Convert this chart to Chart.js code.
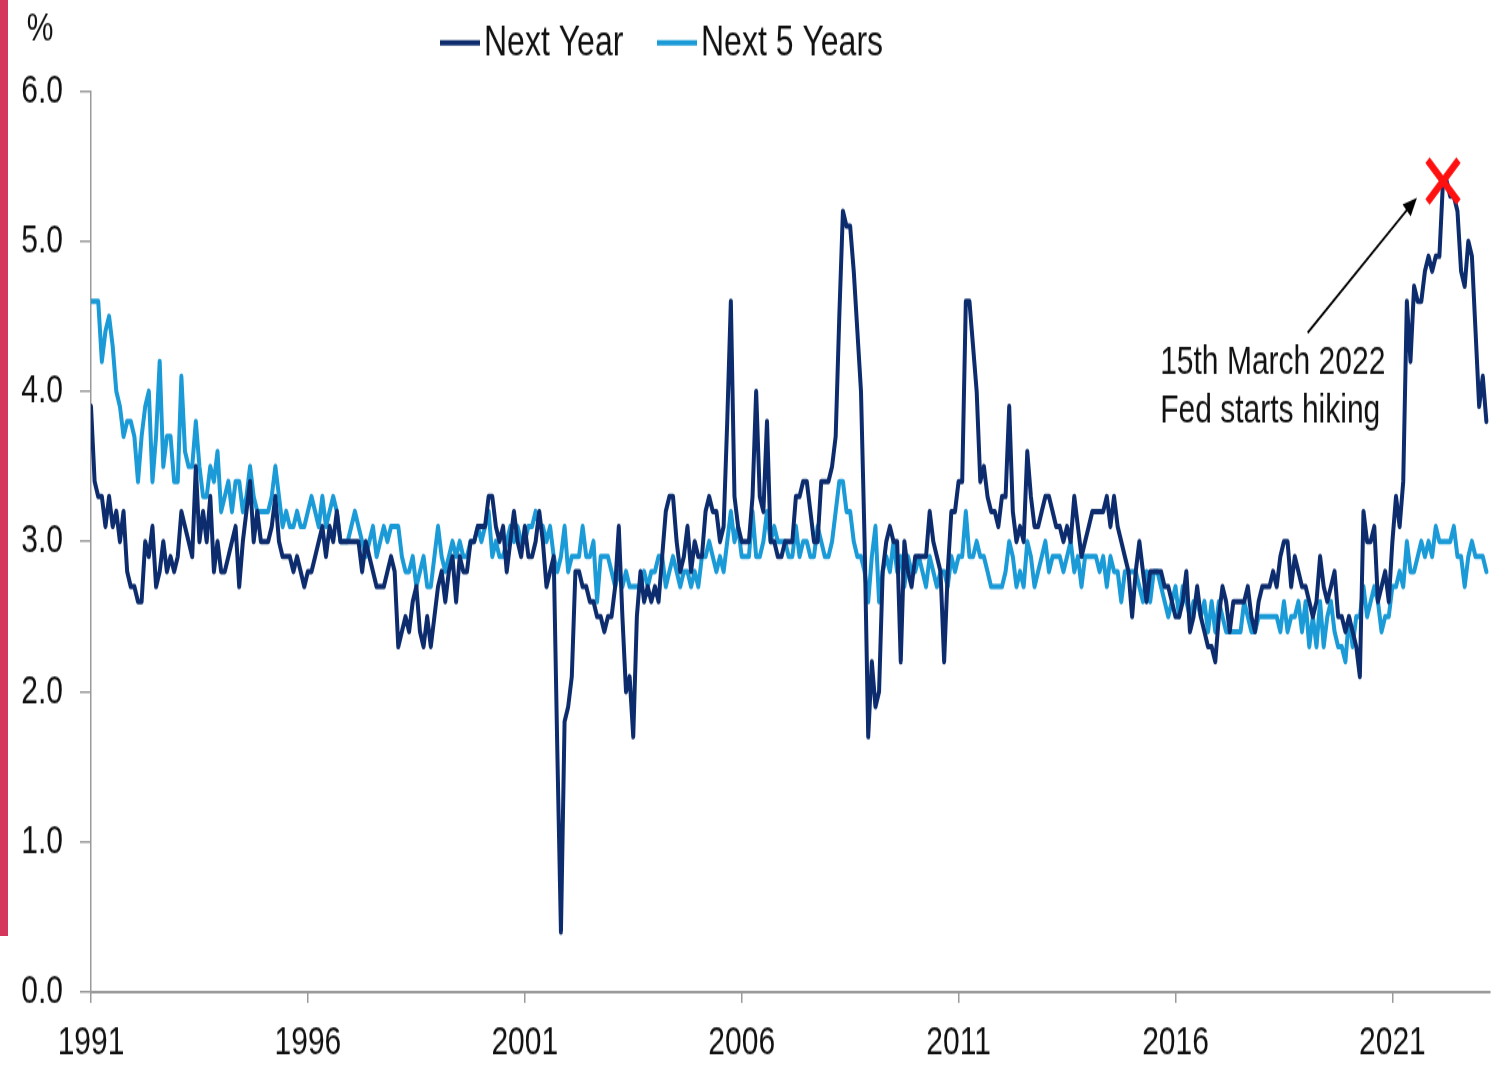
<!DOCTYPE html>
<html>
<head>
<meta charset="utf-8">
<title>Inflation expectations</title>
<script src="https://cdn.jsdelivr.net/npm/chart.js@4.4.0/dist/chart.umd.min.js"></script>
<style>
  html, body { margin: 0; padding: 0; background: #fff; overflow: hidden; }
  #wrap { position: relative; width: 1491px; height: 1065px; }
  #bar { position: absolute; left: 0; top: 0; width: 8px; height: 936px; background: #d5365c; z-index: 2; }
</style>
</head>
<body>
<div id="wrap">
  <!-- drawn at 789px high, shown at 1065px: the source picture is stretched vertically -->
  <canvas id="chart" width="1491" height="789" style="width:1491px;height:1065px;display:block"></canvas>
  <div id="bar"></div>
</div>
<script>
// ---------- DATA ----------
const startYear = 1991;   // monthly, Jan 1991 .. Mar 2023
const xTickYears = [1991, 1996, 2001, 2006, 2011, 2016, 2021];
const yTickLabels = ['0.0', '1.0', '2.0', '3.0', '4.0', '5.0', '6.0'];
const seriesNames = ['Next Year', 'Next 5 Years'];

const nextYear = [
  3.9, 3.4, 3.3, 3.3, 3.1, 3.3, 3.1, 3.2, 3.0, 3.2, 2.8, 2.7, // 1991
  2.7, 2.6, 2.6, 3.0, 2.9, 3.1, 2.7, 2.8, 3.0, 2.8, 2.9, 2.8, // 1992
  2.9, 3.2, 3.1, 3.0, 2.9, 3.5, 3.0, 3.2, 3.0, 3.3, 2.8, 3.0, // 1993
  2.8, 2.8, 2.9, 3.0, 3.1, 2.7, 3.0, 3.2, 3.4, 3.0, 3.2, 3.0, // 1994
  3.0, 3.0, 3.1, 3.3, 3.0, 2.9, 2.9, 2.9, 2.8, 2.9, 2.8, 2.7, // 1995
  2.8, 2.8, 2.9, 3.0, 3.1, 2.9, 3.1, 3.0, 3.2, 3.0, 3.0, 3.0, // 1996
  3.0, 3.0, 3.0, 2.8, 3.0, 2.9, 2.8, 2.7, 2.7, 2.7, 2.8, 2.9, // 1997
  2.8, 2.3, 2.4, 2.5, 2.4, 2.6, 2.7, 2.4, 2.3, 2.5, 2.3, 2.5, // 1998
  2.7, 2.8, 2.6, 2.8, 2.9, 2.6, 2.9, 2.8, 2.8, 3.0, 3.0, 3.1, // 1999
  3.1, 3.1, 3.3, 3.3, 3.1, 3.0, 3.1, 2.8, 3.0, 3.2, 3.0, 2.9, // 2000
  3.1, 2.9, 2.9, 3.0, 3.2, 3.0, 2.7, 2.8, 2.9, 1.6, 0.4, 1.8, // 2001
  1.9, 2.1, 2.8, 2.8, 2.7, 2.7, 2.6, 2.6, 2.5, 2.5, 2.4, 2.5, // 2002
  2.5, 2.7, 3.1, 2.5, 2.0, 2.1, 1.7, 2.5, 2.8, 2.6, 2.7, 2.6, // 2003
  2.7, 2.6, 2.9, 3.2, 3.3, 3.3, 3.0, 2.8, 2.9, 3.1, 2.8, 3.0, // 2004
  2.9, 2.9, 3.2, 3.3, 3.2, 3.2, 3.0, 3.1, 3.8, 4.6, 3.3, 3.1, // 2005
  3.0, 3.0, 3.0, 3.3, 4.0, 3.3, 3.2, 3.8, 3.0, 3.0, 2.9, 2.9, // 2006
  3.0, 3.0, 3.0, 3.3, 3.3, 3.4, 3.4, 3.2, 3.0, 3.0, 3.4, 3.4, // 2007
  3.4, 3.5, 3.7, 4.5, 5.2, 5.1, 5.1, 4.8, 4.4, 4.0, 3.0, 1.7, // 2008
  2.2, 1.9, 2.0, 2.8, 3.0, 3.1, 3.0, 3.0, 2.2, 3.0, 2.8, 2.7, // 2009
  2.9, 2.9, 2.9, 2.9, 3.2, 3.0, 2.9, 2.8, 2.2, 2.8, 3.2, 3.2, // 2010
  3.4, 3.4, 4.6, 4.6, 4.3, 4.0, 3.4, 3.5, 3.3, 3.2, 3.2, 3.1, // 2011
  3.3, 3.3, 3.9, 3.2, 3.0, 3.1, 3.0, 3.6, 3.3, 3.1, 3.1, 3.2, // 2012
  3.3, 3.3, 3.2, 3.1, 3.1, 3.0, 3.1, 3.0, 3.3, 3.1, 2.9, 3.0, // 2013
  3.1, 3.2, 3.2, 3.2, 3.2, 3.3, 3.1, 3.3, 3.1, 3.0, 2.9, 2.8, // 2014
  2.5, 2.8, 3.0, 2.8, 2.6, 2.8, 2.8, 2.8, 2.8, 2.7, 2.7, 2.6, // 2015
  2.5, 2.5, 2.6, 2.8, 2.4, 2.5, 2.7, 2.5, 2.4, 2.3, 2.3, 2.2, // 2016
  2.5, 2.7, 2.6, 2.4, 2.6, 2.6, 2.6, 2.6, 2.7, 2.5, 2.4, 2.6, // 2017
  2.7, 2.7, 2.7, 2.8, 2.7, 2.9, 3.0, 3.0, 2.7, 2.9, 2.8, 2.7, // 2018
  2.7, 2.6, 2.5, 2.6, 2.9, 2.7, 2.6, 2.7, 2.8, 2.5, 2.5, 2.4, // 2019
  2.5, 2.4, 2.3, 2.1, 3.2, 3.0, 3.0, 3.1, 2.6, 2.7, 2.8, 2.6, // 2020
  3.0, 3.3, 3.1, 3.4, 4.6, 4.2, 4.7, 4.6, 4.6, 4.8, 4.9, 4.8, // 2021
  4.9, 4.9, 5.4, 5.4, 5.3, 5.3, 5.2, 4.8, 4.7, 5.0, 4.9, 4.4, // 2022
  3.9, 4.1, 3.8                                               // 2023
];

const next5Years = [
  4.6, 4.6, 4.6, 4.2, 4.4, 4.5, 4.3, 4.0, 3.9, 3.7, 3.8, 3.8, // 1991
  3.7, 3.4, 3.7, 3.9, 4.0, 3.4, 3.7, 4.2, 3.5, 3.7, 3.7, 3.4, // 1992
  3.4, 4.1, 3.6, 3.5, 3.5, 3.8, 3.5, 3.3, 3.3, 3.5, 3.4, 3.6, // 1993
  3.2, 3.3, 3.4, 3.2, 3.4, 3.4, 3.2, 3.3, 3.5, 3.3, 3.2, 3.2, // 1994
  3.2, 3.2, 3.3, 3.5, 3.3, 3.1, 3.2, 3.1, 3.1, 3.2, 3.1, 3.1, // 1995
  3.2, 3.3, 3.2, 3.1, 3.3, 3.1, 3.2, 3.3, 3.2, 3.0, 3.0, 3.0, // 1996
  3.1, 3.2, 3.1, 3.0, 2.9, 3.0, 3.1, 2.9, 3.0, 3.1, 3.0, 3.1, // 1997
  3.1, 3.1, 2.9, 2.8, 2.8, 2.9, 2.7, 2.8, 2.9, 2.7, 2.7, 2.9, // 1998
  3.1, 2.9, 2.8, 2.9, 3.0, 2.9, 3.0, 2.9, 2.9, 3.0, 3.0, 3.1, // 1999
  3.0, 3.1, 3.2, 2.9, 3.0, 2.9, 2.9, 3.0, 3.1, 3.0, 3.1, 3.0, // 2000
  3.0, 3.1, 3.1, 3.2, 3.1, 3.1, 3.0, 3.1, 2.9, 2.8, 2.9, 3.1, // 2001
  2.8, 2.9, 2.9, 2.9, 3.1, 2.9, 2.9, 3.0, 2.6, 2.9, 2.9, 2.9, // 2002
  2.8, 2.7, 2.8, 2.7, 2.8, 2.7, 2.7, 2.7, 2.7, 2.8, 2.7, 2.8, // 2003
  2.8, 2.9, 2.9, 2.7, 2.8, 2.9, 2.8, 2.7, 2.8, 2.8, 2.7, 2.8, // 2004
  2.7, 2.9, 2.9, 3.0, 2.9, 2.8, 2.9, 2.8, 3.0, 3.2, 3.0, 3.1, // 2005
  2.9, 2.9, 2.9, 3.2, 2.9, 2.9, 3.0, 3.2, 3.0, 3.1, 3.0, 3.0, // 2006
  3.0, 2.9, 2.9, 3.1, 2.9, 3.0, 3.0, 2.9, 2.9, 3.1, 3.0, 2.9, // 2007
  2.9, 3.0, 3.2, 3.4, 3.4, 3.2, 3.2, 3.0, 2.9, 2.9, 2.8, 2.6, // 2008
  2.9, 3.1, 2.6, 2.8, 2.9, 2.8, 3.0, 2.8, 2.9, 2.7, 2.9, 2.8, // 2009
  2.8, 2.9, 2.8, 2.7, 2.9, 2.8, 2.7, 2.8, 2.8, 2.7, 2.9, 2.8, // 2010
  2.9, 2.9, 3.2, 2.9, 2.9, 3.0, 2.9, 2.9, 2.8, 2.7, 2.7, 2.7, // 2011
  2.7, 2.8, 3.0, 2.9, 2.7, 2.8, 2.7, 3.0, 2.9, 2.7, 2.8, 2.9, // 2012
  3.0, 2.8, 2.9, 2.9, 2.9, 2.8, 2.9, 3.0, 2.8, 2.9, 2.7, 2.9, // 2013
  2.9, 2.9, 2.9, 2.8, 2.9, 2.7, 2.9, 2.8, 2.8, 2.6, 2.8, 2.8, // 2014
  2.8, 2.8, 2.7, 2.6, 2.8, 2.6, 2.8, 2.8, 2.7, 2.6, 2.5, 2.6, // 2015
  2.7, 2.5, 2.7, 2.6, 2.5, 2.6, 2.6, 2.5, 2.6, 2.4, 2.6, 2.4, // 2016
  2.6, 2.5, 2.4, 2.4, 2.4, 2.4, 2.4, 2.6, 2.5, 2.4, 2.4, 2.5, // 2017
  2.5, 2.5, 2.5, 2.5, 2.5, 2.4, 2.6, 2.4, 2.5, 2.5, 2.6, 2.4, // 2018
  2.6, 2.3, 2.5, 2.3, 2.6, 2.3, 2.5, 2.6, 2.4, 2.3, 2.3, 2.2, // 2019
  2.5, 2.3, 2.5, 2.5, 2.7, 2.5, 2.6, 2.7, 2.6, 2.4, 2.5, 2.5, // 2020
  2.7, 2.7, 2.8, 2.7, 3.0, 2.8, 2.8, 2.9, 3.0, 2.9, 3.0, 2.9, // 2021
  3.1, 3.0, 3.0, 3.0, 3.0, 3.1, 2.9, 2.9, 2.7, 2.9, 3.0, 2.9, // 2022
  2.9, 2.9, 2.8                                               // 2023
];

// Fed hike: March 2022, marked on the Next Year line
const hikeYear = 2022;
const hikeMonth = 3;
const hikeLabel = ['15th March 2022', 'Fed starts hiking'];

// ---------- STYLE ----------
const STRETCH = 1065 / 789;
const FONT = '"Liberation Sans", Arial, sans-serif';
const DARK = '#0d2c6e';
const LIGHT = '#1a9ad6';
const AXIS = '#9a9a9a';

function toPoints(values) {
    return values.map((v, i) => ({ x: startYear + i / 12, y: v }));
}

const hikeIndex = (hikeYear - startYear) * 12 + (hikeMonth - 1);
const hikePoint = { x: startYear + hikeIndex / 12, y: nextYear[hikeIndex] };

// ---------- OVERLAY: legend, unit, marker, arrow and note ----------
const overlay = {
    id: 'overlay',
    afterDraw(chart) {
        const ctx = chart.ctx;
        const xs = chart.scales.x;
        const ys = chart.scales.y;
        ctx.save();

        // unit
        ctx.fillStyle = '#111';
        ctx.font = `30px ${FONT}`;
        ctx.textAlign = 'center';
        ctx.textBaseline = 'middle';
        ctx.fillText('%', 40, 22);

        // legend
        const legendY = 43 / STRETCH;
        const items = [
            { name: seriesNames[0], color: DARK, x: 440 },
            { name: seriesNames[1], color: LIGHT, x: 657 }
        ];
        ctx.font = `32px ${FONT}`;
        ctx.textAlign = 'left';
        items.forEach(it => {
            ctx.strokeStyle = it.color;
            ctx.lineWidth = 4;
            ctx.beginPath();
            ctx.moveTo(it.x, legendY);
            ctx.lineTo(it.x + 40, legendY);
            ctx.stroke();
            ctx.fillStyle = '#111';
            ctx.fillText(it.name, it.x + 44, legendY);
        });

        // red cross on the hike month
        const hx = xs.getPixelForValue(hikePoint.x);
        const hy = ys.getPixelForValue(hikePoint.y);
        const r = 15.5;
        ctx.strokeStyle = '#ff1010';
        ctx.lineWidth = 6;
        ctx.beginPath();
        ctx.moveTo(hx - r, hy - r); ctx.lineTo(hx + r, hy + r);
        ctx.moveTo(hx + r, hy - r); ctx.lineTo(hx - r, hy + r);
        ctx.stroke();

        // arrow towards the hike marker
        const x0 = xs.getPixelForValue(hikePoint.x - 3.12), y0 = ys.getPixelForValue(hikePoint.y - 1.01);
        const x1 = xs.getPixelForValue(hikePoint.x - 0.6), y1 = ys.getPixelForValue(hikePoint.y - 0.11);
        const ang = Math.atan2(y1 - y0, x1 - x0);
        ctx.strokeStyle = '#000';
        ctx.fillStyle = '#000';
        ctx.lineWidth = 1.8;
        ctx.beginPath();
        ctx.moveTo(x0, y0);
        ctx.lineTo(x1 - 10 * Math.cos(ang), y1 - 10 * Math.sin(ang));
        ctx.stroke();
        ctx.beginPath();
        ctx.moveTo(x1, y1);
        ctx.lineTo(x1 - 14 * Math.cos(ang) + 6 * Math.sin(ang), y1 - 14 * Math.sin(ang) - 6 * Math.cos(ang));
        ctx.lineTo(x1 - 14 * Math.cos(ang) - 6 * Math.sin(ang), y1 - 14 * Math.sin(ang) + 6 * Math.cos(ang));
        ctx.closePath();
        ctx.fill();

        // note
        ctx.fillStyle = '#111';
        ctx.font = `30px ${FONT}`;
        ctx.textAlign = 'left';
        ctx.textBaseline = 'middle';
        const tx = xs.getPixelForValue(hikePoint.x - 6.52);
        ctx.fillText(hikeLabel[0], tx, ys.getPixelForValue(4.19));
        ctx.fillText(hikeLabel[1], tx, ys.getPixelForValue(3.87));

        ctx.restore();
    }
};

// ---------- CHART ----------
const lineStyle = {
    borderWidth: 4,
    pointRadius: 0,
    tension: 0,
    borderJoinStyle: 'round',
    borderCapStyle: 'round'
};

const ctx = document.getElementById('chart').getContext('2d');
new Chart(ctx, {
    type: 'line',
    data: {
        datasets: [
            Object.assign({ label: seriesNames[0], data: toPoints(nextYear), borderColor: DARK, order: 1 }, lineStyle),
            Object.assign({ label: seriesNames[1], data: toPoints(next5Years), borderColor: LIGHT, order: 2 }, lineStyle)
        ]
    },
    options: {
        responsive: false,
        devicePixelRatio: 1,
        animation: false,
        layout: { padding: { top: 91 / STRETCH, right: 1, left: 0, bottom: 0 } },
        plugins: {
            legend: { display: false },
            tooltip: { enabled: false }
        },
        scales: {
            x: {
                type: 'linear',
                min: startYear,
                max: 2023.25,
                afterBuildTicks: s => { s.ticks = xTickYears.map(v => ({ value: v })); },
                afterFit: s => { s.height = 1065 / STRETCH - 992 / STRETCH; },
                ticks: {
                    callback: v => String(v),
                    autoSkip: false,
                    maxRotation: 0,
                    color: '#111',
                    padding: 12,
                    font: { family: FONT, size: 30 }
                },
                grid: { drawOnChartArea: false, drawTicks: true, tickLength: 8, color: AXIS, lineWidth: 1.5 },
                border: { color: AXIS, width: 2 }
            },
            y: {
                min: 0,
                max: 6,
                afterFit: s => { s.width = 91; },
                ticks: {
                    stepSize: 1,
                    callback: v => yTickLabels[Math.round(v)],
                    color: '#111',
                    padding: 17,
                    font: { family: FONT, size: 30 }
                },
                grid: { drawOnChartArea: false, drawTicks: true, tickLength: 11, color: AXIS, lineWidth: 1.5 },
                border: { color: AXIS, width: 1.5 }
            }
        }
    },
    plugins: [overlay]
});
</script>
</body>
</html>
